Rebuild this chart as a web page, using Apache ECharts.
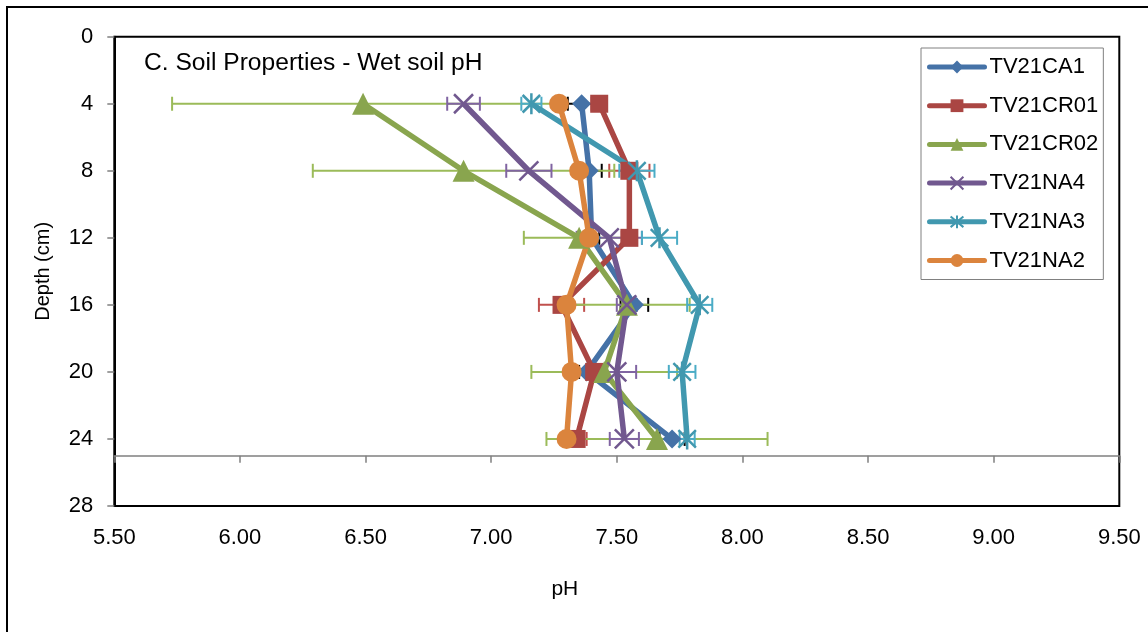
<!DOCTYPE html>
<html>
<head>
<meta charset="utf-8">
<script src="https://cdn.jsdelivr.net/npm/echarts@6/dist/echarts.min.js"></script>
<style>
  html, body { margin: 0; padding: 0; background: #fff; }
  #Chart { width: 1148px; height: 632px; }
</style>
</head>
<body>
<div id="Chart"></div>
<script>
// depth of each sample (cm)
const depths = [ 4, 8, 12, 16, 20, 24 ]
const names = [ "TV21CA1", "TV21CR01", "TV21CR02", "TV21NA4", "TV21NA3", "TV21NA2" ]
const xTicks = [ 5.5, 9.5, 0.5 ] // min, max, step
const yTicks = [ 0, 28, 4 ]

// mean pH per depth
const ca1 = [ 7.36, 7.39, 7.40, 7.57, 7.38, 7.72 ]
const cr01 = [ 7.43, 7.55, 7.55, 7.28, 7.41, 7.34 ]
const cr02 = [ 6.49, 6.89, 7.35, 7.54, 7.45, 7.66 ]
const na4 = [ 6.89, 7.15, 7.47, 7.54, 7.50, 7.53 ]
const na3 = [ 7.16, 7.58, 7.67, 7.83, 7.76, 7.78 ]
const na2 = [ 7.27, 7.35, 7.39, 7.30, 7.32, 7.30 ]

// error bar half widths
const ca1Err = [ 0.055, 0.05, 0.03, 0.055, 0.03, 0.05 ]
const cr01Err = [ 0.03, 0.08, 0.03, 0.09, 0.03, 0.04 ]
const cr02Err = [ 0.76, 0.6, 0.22, 0.25, 0.29, 0.44 ]
const na4Err = [ 0.065, 0.09, 0.13, 0.04, 0.077, 0.058 ]
const na3Err = [ 0.04, 0.07, 0.07, 0.05, 0.053, 0.03 ]
const na2Err = [ 0.02, 0.02, 0.02, 0.02, 0.02, 0.02 ]

const values = [ ca1, cr01, cr02, na4, na3, na2 ]
const errors = [ ca1Err, cr01Err, cr02Err, na4Err, na3Err, na2Err ]
const lineColors = [ "#4572A7", "#AA4643", "#89A54E", "#71588F", "#4198AF", "#DB843D" ]
const errColors = [ "#000000", "#C0504D", "#9BBB59", "#8064A2", "#4BACC6", "#F79646" ]
const symbols = [
  "diamond",
  "rect",
  "triangle",
  "path://M0,0L10,10M0,10L10,0",
  "path://M0,0L10,10M0,10L10,0M5,-1L5,11",
  "circle"
]
const symbolSizes = [ 19, 18, 22, 19, 21, 20 ]

const chart = echarts.init(document.getElementById("Chart"), null, { renderer: "canvas" })

const errBar = (color) => (params, api) => {
  const x = api.value(0)
  const y = api.value(1)
  const e = api.value(2)
  const a = api.coord([ x - e, y ])
  const b = api.coord([ x + e, y ])
  const h = 7
  const style = { stroke: color, lineWidth: 2 }
  return {
    type: "group",
    children: [
      { type: "line", shape: { x1: a[0], y1: a[1], x2: b[0], y2: b[1] }, style },
      { type: "line", shape: { x1: a[0], y1: a[1] - h, x2: a[0], y2: a[1] + h }, style },
      { type: "line", shape: { x1: b[0], y1: b[1] - h, x2: b[0], y2: b[1] + h }, style }
    ]
  }
}

const errSeries = values.map((vals, i) => ({
  type: "custom",
  z: 1,
  silent: true,
  renderItem: errBar(errColors[i]),
  data: depths.map((d, j) => [ vals[j], d, errors[i][j] ])
}))

const lineSeries = values.map((vals, i) => ({
  name: names[i],
  type: "line",
  z: 2,
  color: lineColors[i],
  symbol: symbols[i],
  symbolSize: symbolSizes[i],
  symbolKeepAspect: true,
  lineStyle: { width: 5.5, color: lineColors[i] },
  itemStyle: {
    color: lineColors[i],
    borderColor: lineColors[i],
    borderWidth: i === 3 || i === 4 ? 2.5 : 0
  },
  data: depths.map((d, j) => [ vals[j], d ])
}))

const font = "Liberation Sans, Arial, sans-serif"
const gridH = 632 - 36.7 - 126

const option = {
  animation: false,
  textStyle: { fontFamily: font, color: "#000" },
  title: {
    text: "C. Soil Properties - Wet soil pH",
    left: 144,
    top: 51,
    padding: 0,
    textStyle: { fontFamily: font, fontSize: 24.6, fontWeight: "normal", color: "#000" }
  },
  legend: {
    data: names,
    orient: "vertical",
    left: 921,
    top: 48,
    backgroundColor: "#fff",
    borderColor: "#808080",
    borderWidth: 1,
    borderRadius: 0,
    padding: [ 7, 5, 7, 6 ],
    itemWidth: 55,
    itemHeight: 16,
    itemGap: 14.7,
    lineStyle: { width: 5, cap: "round" },
    textStyle: { fontFamily: font, fontSize: 22, color: "#000", lineHeight: 24 }
  },
  grid: {
    left: 114.3,
    top: 36.7,
    right: 28.7,
    bottom: 126,
    show: true,
    borderColor: "#000",
    borderWidth: 2,
    backgroundColor: "#fff"
  },
  xAxis: [
    {
      type: "value",
      min: xTicks[0],
      max: xTicks[1],
      interval: xTicks[2],
      position: "bottom",
      name: "pH",
      nameLocation: "middle",
      nameGap: 73,
      nameTextStyle: { fontFamily: font, fontSize: 21, color: "#000", padding: [ 0, 104, 0, 0 ] },
      axisLine: { show: false },
      axisTick: { show: false },
      splitLine: { show: false },
      axisLabel: {
        fontFamily: font,
        fontSize: 22,
        color: "#000",
        margin: 21,
        formatter: (v) => v.toFixed(2)
      }
    },
    {
      // axis line crossing at depth 25
      type: "value",
      min: xTicks[0],
      max: xTicks[1],
      interval: xTicks[2],
      position: "bottom",
      offset: -gridH * 3 / 28,
      axisLine: { show: true, lineStyle: { color: "#808080", width: 1.5 } },
      axisTick: { show: true, inside: false, length: 7, lineStyle: { color: "#808080", width: 1.5 } },
      axisLabel: { show: false },
      splitLine: { show: false }
    }
  ],
  yAxis: {
    type: "value",
    inverse: true,
    min: yTicks[0],
    max: yTicks[1],
    interval: yTicks[2],
    name: "Depth (cm)",
    nameLocation: "middle",
    nameGap: 61,
    nameTextStyle: { fontFamily: font, fontSize: 20, color: "#000" },
    axisLine: { show: true, lineStyle: { color: "#000", width: 2 } },
    axisTick: { show: true, inside: false, length: 7, lineStyle: { color: "#808080", width: 1.5 } },
    splitLine: { show: false },
    axisLabel: { fontFamily: font, fontSize: 22, color: "#000", margin: 21 }
  },
  graphic: [
    {
      type: "rect",
      shape: { x: 7, y: 7, width: 1300, height: 800 },
      style: { fill: null, stroke: "#000", lineWidth: 2 },
      z: 100,
      silent: true
    }
  ],
  series: [ ...errSeries, ...lineSeries ]
}

chart.setOption(option)
</script>
</body>
</html>
